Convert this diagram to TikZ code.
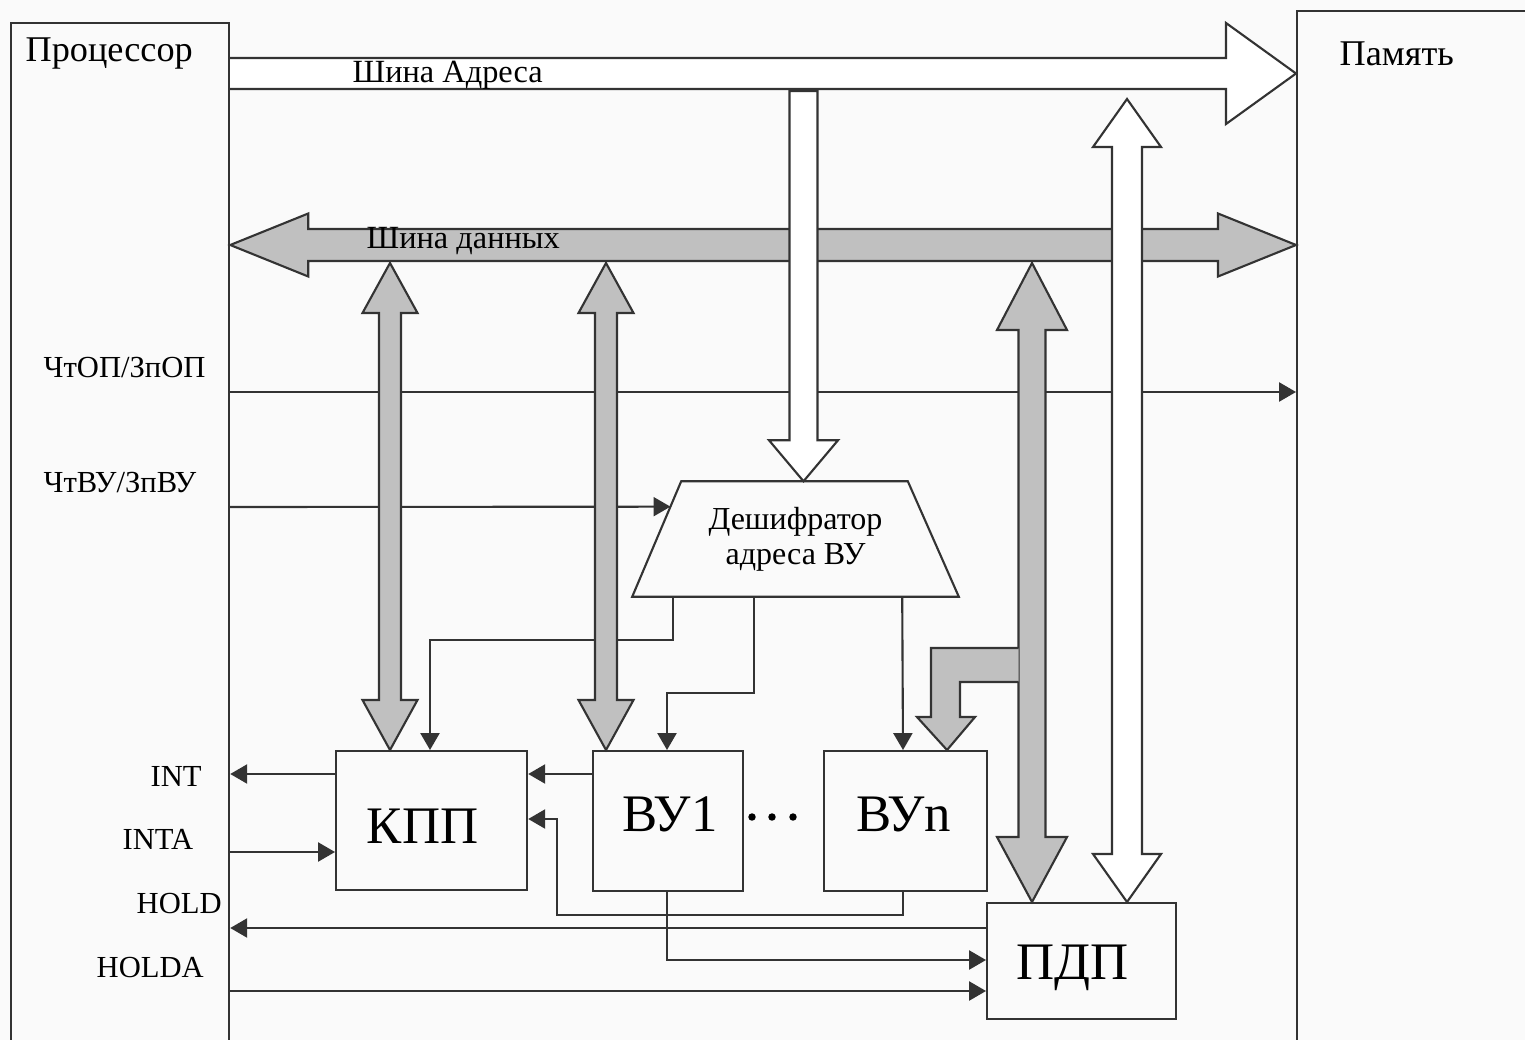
\documentclass[tikz,border=0pt]{standalone}
\usepackage{fontspec}
\setmainfont{Liberation Serif}
\usepackage{tikz}
\usetikzlibrary{calc,arrows.meta,positioning}
\definecolor{busgray}{RGB}{192,192,192}
\definecolor{paper}{RGB}{250,250,250}

\begin{document}
\begin{tikzpicture}[x=0.01cm,y=-0.01cm,
    blk/.style={draw=black!80,line width=0.6pt,inner sep=0pt,anchor=north west},
    blkt/.style={inner sep=0pt,font=\fontsize{15}{18}\selectfont},
    lbl/.style={inner sep=0pt,anchor=base west,font=\fontsize{8.7}{10}\selectfont},
    sig/.style={draw=black!80,line width=0.6pt,-{Triangle[length=4.8pt,width=5.4pt]}},
    wire/.style={draw=black!80,line width=0.6pt},
    bus/.style={draw=black!80,line width=0.6pt,fill=busgray,line join=miter}]
  \path[use as bounding box] (0,0) rectangle (1525,1040);
  \clip (0,0) rectangle (1525,1040);
  \fill[paper] (0,0) rectangle (1525,1040);

  % processor and memory
  \node[blk,minimum width=2.18cm,minimum height=10.5cm] (proc) at (10,22) {};
  \node[blk,minimum width=3cm,minimum height=10.6cm] (mem) at (1296,10) {};
  \node[lbl,font=\fontsize{10.3}{12}\selectfont] (proct) at (25,62) {Процессор};
  \node[lbl,font=\fontsize{10.3}{12}\selectfont] (memt) at (1339,66) {Память};

  % signal names
  \node[lbl] (lop)   at (43,377)  {ЧтОП/ЗпОП};
  \node[lbl] (lvu)   at (43,492)  {ЧтВУ/ЗпВУ};
  \node[lbl] (lint)  at (150,786) {INT};
  \node[lbl] (linta) at (122,849) {INTA};
  \node[lbl] (lhold) at (136,913) {HOLD};
  \node[lbl] (lholda) at (96,977) {HOLDA};

  % blocks
  \node[blk,minimum width=1.91cm,minimum height=1.39cm] (kpp) at (335,750) {};
  \node[blk,minimum width=1.50cm,minimum height=1.40cm] (vu1) at (592,750) {};
  \node[blk,minimum width=1.63cm,minimum height=1.40cm] (vun) at (823,750) {};
  \node[blk,minimum width=1.89cm,minimum height=1.16cm] (pdp) at (986,902) {};
  \node[blkt] (kppt) at ($(kpp.center)+(-9,6)$) {КПП};
  \node[blkt] (vu1t) at ($(vu1.center)+(2,-7)$) {ВУ1};
  \node[blkt] (vunt) at ($(vun.center)+(-2,-7)$) {ВУn};
  \node[blkt] (pdpt) at ($(pdp.center)+(-9,7)$) {ПДП};
  \foreach \i/\xx in {1/752,2/772,3/793}
    \node[circle,fill=black,inner sep=0.75pt] (dot\i) at (\xx,817) {};

  % decoder
  \node[inner sep=0pt,minimum width=3.25cm,minimum height=1.14cm,align=center,
        font=\fontsize{9.1}{10}\selectfont] (dec) at (795.5,539) {Дешифратор\\адреса ВУ};
  \coordinate (dnw) at ($(dec.north west)+(49,0)$);
  \coordinate (dne) at ($(dec.north east)+(-51,0)$);
  \draw[wire] (dec.south west) -- (dnw) -- (dne) -- (dec.south east) -- cycle;

  % thin signal lines
  \draw[sig] (proc.east |- 0,392) -- (mem.west |- 0,392);
  \draw[sig] (proc.east |- 0,507) -- ($(dec.south west)!0.78!(dnw)$);
  \draw[sig] ($(dec.south west)+(41,0)$) -- ++(0,43) -| ($(kpp.north west)+(95,0)$);
  \draw[sig] ($(dec.south west)+(122,0)$) -- ++(0,96) -| ($(vu1.north west)+(75,0)$);
  \draw[sig] ($(dec.south west)+(270,0)$) -- ($(vun.north west)+(80,0)$);
  \draw[sig] (kpp.west |- 0,774) -- (proc.east |- 0,774);
  \draw[sig] (proc.east |- 0,852) -- (kpp.west |- 0,852);
  \draw[sig] (vu1.west |- 0,774) -- (kpp.east |- 0,774);
  \draw[sig] ($(vun.south west)+(80,0)$) -- ++(0,23) -- ++(-346,0) |- (kpp.east |- 0,819);
  \draw[sig] (pdp.west |- 0,928) -- (proc.east |- 0,928);
  \draw[sig] ($(vu1.south west)+(75,0)$) |- (pdp.west |- 0,960);
  \draw[sig] (proc.east |- 0,991) -- (pdp.west |- 0,991);

  % address and data buses
  \coordinate (abL) at (proc.east |- 0,73.5);
  \coordinate (abR) at (mem.west |- abL);
  \coordinate (dbL) at (proc.east |- 0,245);
  \coordinate (dbR) at (mem.west |- dbL);
  \draw[bus] (dbL) -- ($(dbL)+(78,-31.5)$) -- ($(dbL)+(78,-16)$) -- ($(dbR)+(-78,-16)$)
    -- ($(dbR)+(-78,-31.5)$) -- (dbR) -- ($(dbR)+(-78,31.5)$) -- ($(dbR)+(-78,16)$)
    -- ($(dbL)+(78,16)$) -- ($(dbL)+(78,31.5)$) -- cycle;
  \draw[bus,fill=white] ($(abL)+(0,-15.5)$) -- ($(abR)+(-70,-15.5)$) -- ($(abR)+(-70,-50.5)$)
    -- (abR) -- ($(abR)+(-70,50.5)$) -- ($(abR)+(-70,15.5)$) -- ($(abL)+(0,15.5)$);

  % address to decoder
  \coordinate (decin) at ($(dec.north)+(8,0)$);
  \coordinate (ain) at (decin |- 0,91);
  \draw[bus,fill=white] ($(ain)+(-14,0)$) -- ($(ain)+(14,0)$) -- ($(decin)+(14,-41)$)
    -- ($(decin)+(34.5,-41)$) -- (decin) -- ($(decin)+(-34.5,-41)$) -- ($(decin)+(-14,-41)$) -- cycle;

  % vertical double arrows
  \coordinate (kppB) at ($(kpp.north west)+(55,0)$);
  \coordinate (kppT) at (kppB |- 0,263);
  \coordinate (vu1B) at ($(vu1.north west)+(14,0)$);
  \coordinate (vu1T) at (vu1B |- 0,263);
  \coordinate (pdpB) at ($(pdp.north west)+(46,0)$);
  \coordinate (pdpT) at (pdpB |- 0,263);
  \coordinate (pdpW) at ($(pdp.north west)+(141,0)$);
  \coordinate (memW) at (pdpW |- 0,99);
  \foreach \ta/\tb/\sh/\hh/\lena/\lenb/\fc in
      {kppT/kppB/11/27.5/50/50/busgray, vu1T/vu1B/11/27.5/50/50/busgray,
       pdpT/pdpB/13.5/35/67/65/busgray, memW/pdpW/15/34/48/48/white}
    \draw[bus,fill=\fc] (\ta) -- ($(\ta)+(\hh,\lena)$) -- ($(\ta)+(\sh,\lena)$) -- ($(\tb)+(\sh,-\lenb)$)
      -- ($(\tb)+(\hh,-\lenb)$) -- (\tb) -- ($(\tb)+(-\hh,-\lenb)$) -- ($(\tb)+(-\sh,-\lenb)$)
      -- ($(\ta)+(-\sh,\lena)$) -- ($(\ta)+(-\hh,\lena)$) -- cycle;

  % branch from the DMA data path to VUn
  \coordinate (vunG) at ($(vun.north west)+(124,0)$);
  \draw[bus] ($(pdpB |- vunG)+(-13.5,-102)$) -- ($(vunG)+(-16,-102)$) -- ($(vunG)+(-16,-33)$)
    -- ($(vunG)+(-30,-33)$) -- (vunG) -- ($(vunG)+(28,-33)$) -- ($(vunG)+(13,-33)$)
    -- ($(vunG)+(13,-68)$) -- ($(pdpB |- vunG)+(-13.5,-68)$);

  % bus names
  \node[lbl,font=\fontsize{9.2}{11}\selectfont] (abt) at (352,83) {Шина Адреса};
  \node[lbl,font=\fontsize{9.2}{11}\selectfont] (dbt) at (366,249) {Шина данных};
\end{tikzpicture}
\end{document}
